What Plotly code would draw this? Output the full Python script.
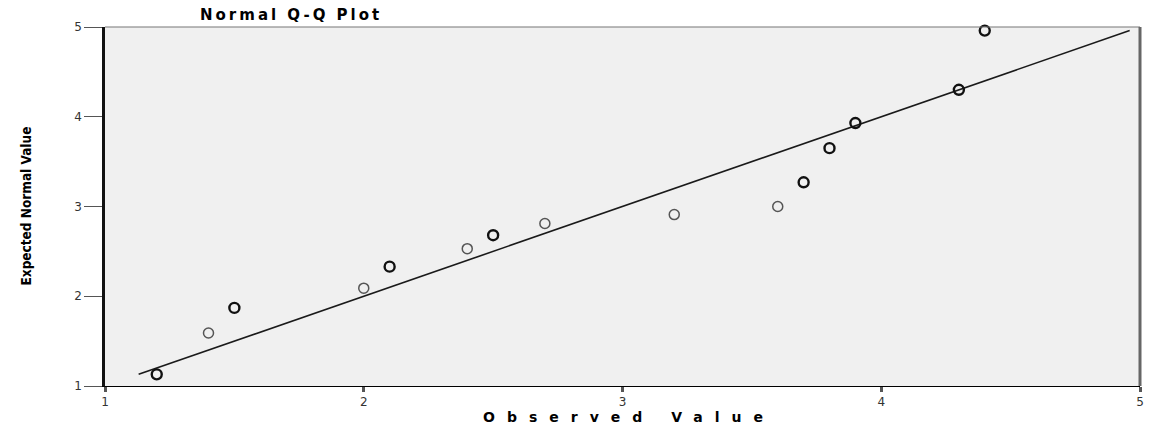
import plotly.graph_objects as go

# Data
observed = [1.2, 1.4, 1.5, 2.0, 2.1, 2.4, 2.5, 2.7, 3.2, 3.6, 3.7, 3.8, 3.9, 4.3, 4.4]
expected = [1.13, 1.59, 1.87, 2.09, 2.33, 2.53, 2.68, 2.81, 2.91, 3.00, 3.27, 3.65, 3.93, 4.30, 4.96]
tied = [1, 0, 1, 0, 1, 0, 1, 0, 0, 0, 1, 1, 1, 1, 1]  # bold circles = overlapping cases
ref_line_x = [1.13, 4.96]
ref_line_y = [1.13, 4.96]
tick_vals = [1, 2, 3, 4, 5]
tick_text = ["1", "2", "3", "4", "5"]

fig = go.Figure()
fig.add_trace(go.Scatter(
    x=ref_line_x, y=ref_line_y, mode="lines",
    line=dict(color="#1a1a1a", width=1.6), hoverinfo="skip", showlegend=False))
fig.add_trace(go.Scatter(
    x=observed, y=expected, mode="markers",
    marker=dict(symbol="circle-open", size=10,
                color=["#111111" if t else "#555555" for t in tied],
                line=dict(width=[2.4 if t else 1.5 for t in tied],
                          color=["#111111" if t else "#555555" for t in tied])),
    showlegend=False, cliponaxis=False))

axis_common = dict(range=[1, 5], tickvals=tick_vals, ticktext=tick_text,
                   showgrid=False, zeroline=False, ticks="outside",
                   tickfont=dict(family="DejaVu Sans", size=12, color="#333333"))
fig.update_xaxes(**axis_common, showline=True, linecolor="#000000", linewidth=1,
                 ticklen=5, tickwidth=3, tickcolor="#555555")
fig.update_yaxes(**axis_common, showline=True, linecolor="#111111", linewidth=2.5,
                 ticklen=18, tickwidth=1, tickcolor="#555555")

fig.update_layout(
    width=1156, height=430,
    margin=dict(l=105, r=14, t=27, b=44),
    paper_bgcolor="#ffffff", plot_bgcolor="#f0f0f0",
    showlegend=False,
    shapes=[
        dict(type="line", xref="paper", yref="paper", x0=0, x1=1, y0=1, y1=1,
             line=dict(color="#777777", width=1.2)),
        dict(type="line", xref="paper", yref="paper", x0=1, x1=1, y0=0, y1=1,
             line=dict(color="#666666", width=3)),
    ],
    annotations=[
        dict(text='<span style="letter-spacing:3px">Normal Q-Q Plot</span>',
             xref="paper", yref="paper", x=0, y=1, xshift=93, xanchor="left",
             yanchor="bottom", yshift=1, showarrow=False,
             font=dict(family="DejaVu Sans", size=15, color="#000000", weight="bold")),
        dict(text='<span style="letter-spacing:12px">Observed Value</span>',
             xref="paper", yref="paper", x=0.5, y=0, xanchor="center",
             yanchor="top", yshift=-21, xshift=6, showarrow=False,
             font=dict(family="DejaVu Sans", size=14, color="#000000", weight="bold")),
        dict(text='<span style="font-stretch:condensed">Expected Normal Value</span>',
             xref="paper", yref="paper", x=0, y=0.5, xshift=-80, xanchor="center",
             yanchor="middle", textangle=-90, showarrow=False,
             font=dict(family="DejaVu Sans", size=13.5, color="#000000", weight="bold")),
    ],
)

fig.write_html("out.html", config={"displayModeBar": False},
               post_script="document.body.style.margin='0px';")
